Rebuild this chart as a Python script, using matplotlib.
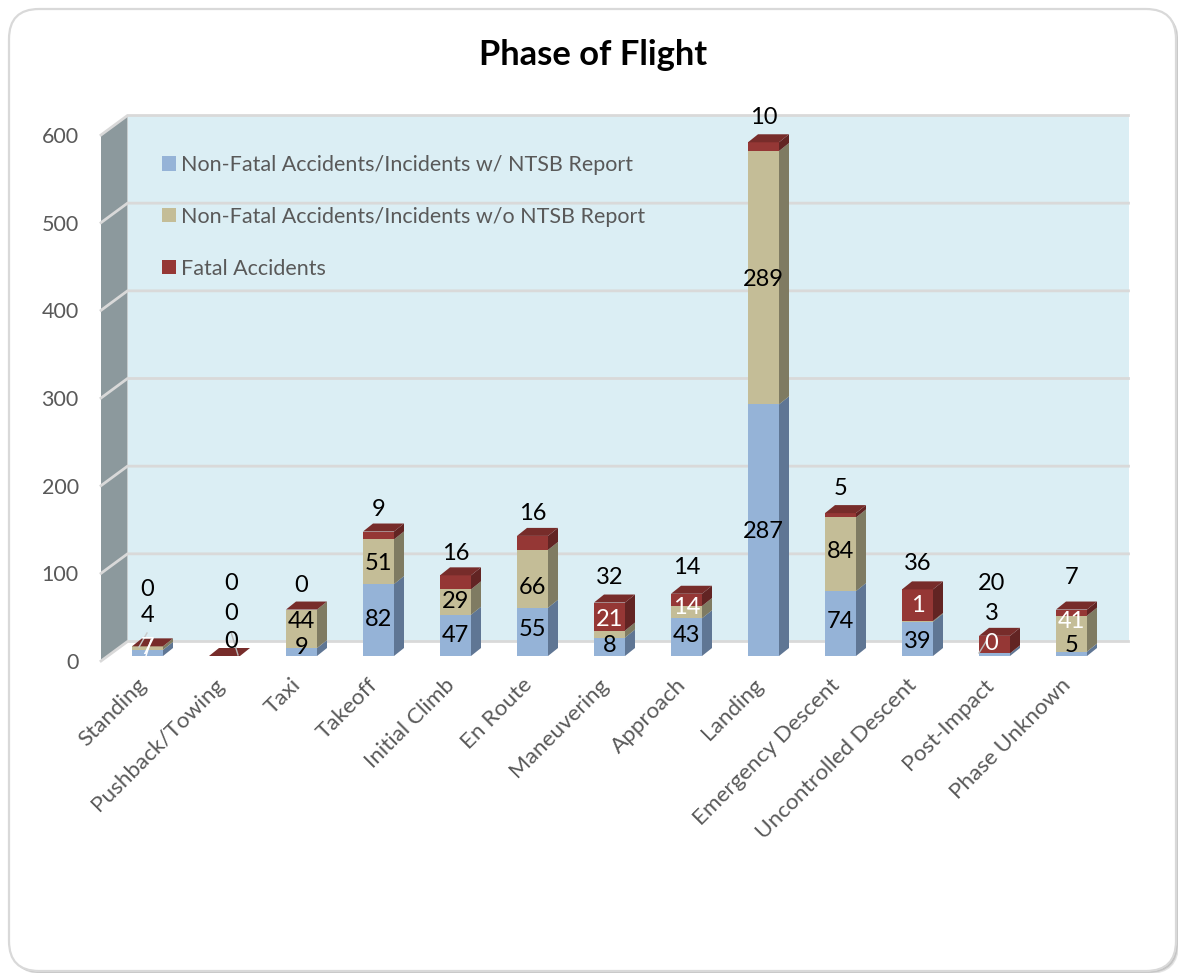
import matplotlib

matplotlib.use("Agg")

import matplotlib.pyplot as plt
from matplotlib.patches import FancyBboxPatch, Polygon

plt.rcParams["font.family"] = ["Lato", "DejaVu Sans"]

PHASES = [
    "Standing", "Pushback/Towing", "Taxi", "Takeoff", "Initial Climb", "En Route", "Maneuvering",
    "Approach", "Landing", "Emergency Descent", "Uncontrolled Descent", "Post-Impact", "Phase Unknown",
]
WITH_REPORT = [7, 0, 9, 82, 47, 55, 21, 43, 287, 74, 39, 3, 5]
WITHOUT_REPORT = [4, 0, 44, 51, 29, 66, 8, 14, 289, 84, 1, 0, 41]
FATAL = [0, 0, 0, 9, 16, 16, 32, 14, 10, 5, 36, 20, 7]

# the labels in the source sit where they sit, some are swapped against the bars
LABEL_LOW = ["7", "0", "9", "82", "47", "55", "8", "43", "287", "74", "39", "0", "5"]
LABEL_MID = ["4", "0", "44", "51", "29", "66", "21", "14", "289", "84", "1", "3", "41"]
LABEL_TOP = ["0", "0", "0", "9", "16", "16", "32", "14", "10", "5", "36", "20", "7"]
WHITE_LOW = {"Standing", "Post-Impact"}
WHITE_MID = {"Maneuvering", "Approach", "Uncontrolled Descent", "Phase Unknown"}

# label layout, pixels down from the top of the image
LOW_Y = [648, 641, 648, 620, 635, 630, 646, 635, 532, 622, 641, 644, 646]
MID_Y = [615, 613, 621, 564, 601, 588, 620, 608, 279, 552, 605, 614, 621]
TOP_Y = [590, 584, 585, 509, 553, 514, 577, 567, 118, 489, 563, 584, 577]
LABEL_DX = [0, 7, 0, 0, 0, 0, 0, 0, 0, 0, 0, -3, 0]

LEGEND_LABELS = [
    "Non-Fatal Accidents/Incidents w/ NTSB Report",
    "Non-Fatal Accidents/Incidents w/o NTSB Report",
    "Fatal Accidents",
]

W, H = 1178, 973
AX_LEFT, AX_RIGHT, AX_TOP, AX_BOTTOM = 101, 1102, 135, 661
X_PX = (AX_RIGHT - AX_LEFT) / 13
Y_PX = (AX_BOTTOM - AX_TOP) / 600

WALL_DX, WALL_DY = 26.5 / X_PX, 19.5 / Y_PX
BAR_DX, BAR_DY = 10 / X_PX, 8 / Y_PX
BAR_W = 31 / X_PX
BAR_OFFSET = 31 / X_PX
BAR_BASE = 5 / Y_PX

BLUE = ("#95B3D7", "#5F7694")
TAN = ("#C4BD97", "#7F7B62")
RED = ("#953735", "#622423")
RED_TOP = "#772C2A"
WALL = "#8C999D"
BACK = "#DBEEF4"
GRID = "#D9D9D9"
TEXT = "#595959"


def px_x(x):
    return (x - AX_LEFT) / X_PX


def px_y(y):
    return (AX_BOTTOM - y) / Y_PX


def draw_panel(fig):
    bg = fig.add_axes([0, 0, 1, 1], zorder=0)
    bg.set_xlim(0, W)
    bg.set_ylim(H, 0)
    bg.axis("off")
    for off, shade in [(3, "#E4E4E4"), (2, "#C8C8C8"), (1, "#B0B0B0")]:
        bg.add_patch(FancyBboxPatch((9 + off, 9 + off), 1167, 962, boxstyle="round,pad=0,rounding_size=30",
                                    fc=shade, ec="none", clip_on=False))
    bg.add_patch(FancyBboxPatch((9, 9), 1167, 962, boxstyle="round,pad=0,rounding_size=30",
                                fc="white", ec=GRID, lw=1.6))
    bg.text(593, 55, "Phase of Flight", ha="center", va="center", fontsize=24.8, fontweight="bold", color="black")


def draw_walls(ax):
    right = 13 + WALL_DX
    ax.add_patch(Polygon([(0, 0), (WALL_DX, WALL_DY), (WALL_DX, 600 + WALL_DY), (0, 600)],
                         fc=WALL, ec="none", clip_on=False, zorder=1))
    ax.add_patch(Polygon([(WALL_DX, WALL_DY), (right, WALL_DY), (right, 600 + WALL_DY), (WALL_DX, 600 + WALL_DY)],
                         fc=BACK, ec="none", clip_on=False, zorder=1))
    for value in range(0, 601, 100):
        ax.plot([0, WALL_DX, right], [value, value + WALL_DY, value + WALL_DY], color=GRID, lw=2.0,
                clip_on=False, zorder=2, solid_joinstyle="miter")


def draw_bars(ax, xs):
    bottoms = [BAR_BASE] * len(xs)
    handles = []
    for values, (front, side), label in zip([WITH_REPORT, WITHOUT_REPORT, FATAL], [BLUE, TAN, RED], LEGEND_LABELS):
        bars = ax.bar(xs, values, width=BAR_W, bottom=bottoms, align="edge", color=front, label=label,
                      clip_on=False, zorder=3)
        handles.append(bars)
        for x, value, bottom in zip(xs, values, bottoms):
            if value == 0:
                continue
            x1 = x + BAR_W
            ax.add_patch(Polygon([(x1, bottom), (x1 + BAR_DX, bottom + BAR_DY),
                                  (x1 + BAR_DX, bottom + value + BAR_DY), (x1, bottom + value)],
                                 fc=side, ec="none", clip_on=False, zorder=3))
        bottoms = [b + v for b, v in zip(bottoms, values)]
    for x, top in zip(xs, bottoms):
        ax.add_patch(Polygon([(x, top), (x + BAR_W, top), (x + BAR_W + BAR_DX, top + BAR_DY), (x + BAR_DX, top + BAR_DY)],
                             fc=RED_TOP, ec="none", clip_on=False, zorder=3))
    return handles


def draw_labels(ax, xs):
    for i, phase in enumerate(PHASES):
        cx = xs[i] + BAR_W / 2 + LABEL_DX[i] / X_PX
        rows = [
            (LABEL_LOW[i], LOW_Y[i], "white" if phase in WHITE_LOW else "black"),
            (LABEL_MID[i], MID_Y[i], "white" if phase in WHITE_MID else "black"),
            (LABEL_TOP[i], TOP_Y[i], "black"),
        ]
        for text, y, color in rows:
            ax.text(cx, px_y(y), text, ha="center", va="center", fontsize=17, color=color, zorder=5, clip_on=False)
    # leader lines left behind by the moved labels
    for (x0, y0), (x1, y1), color in [
        ((139, 647), (147, 633), "#C9C9C9"),
        ((146, 656), (151, 640), "white"),
        ((231, 632), (238, 655), "#B8B8B8"),
        ((979, 653), (987, 640), "#B8B8B8"),
    ]:
        ax.plot([px_x(x0), px_x(x1)], [px_y(y0), px_y(y1)], color=color, lw=1.0, zorder=4, clip_on=False)


def main():
    fig = plt.figure(figsize=(W / 100, H / 100), dpi=100)
    draw_panel(fig)

    ax = fig.add_axes([AX_LEFT / W, 1 - AX_BOTTOM / H, (AX_RIGHT - AX_LEFT) / W, (AX_BOTTOM - AX_TOP) / H], zorder=1)
    ax.patch.set_visible(False)
    ax.set_xlim(0, 13)
    ax.set_ylim(0, 600)
    for spine in ax.spines.values():
        spine.set_visible(False)

    xs = [i + BAR_OFFSET for i in range(len(PHASES))]
    draw_walls(ax)
    handles = draw_bars(ax, xs)
    draw_labels(ax, xs)

    ax.set_yticks(range(0, 601, 100))
    ax.tick_params(axis="y", length=0, pad=16, labelsize=15.5, labelcolor=TEXT)
    ax.set_xticks([x + BAR_W / 2 - 11 / X_PX for x in xs])
    ax.set_xticklabels(PHASES, rotation=45, ha="right", rotation_mode="anchor")
    ax.tick_params(axis="x", length=0, pad=10, labelsize=16.2, labelcolor=TEXT)

    legend = ax.legend(handles=handles, loc="upper left", bbox_to_anchor=(px_x(162) / 13, (AX_BOTTOM - 155) / (AX_BOTTOM - AX_TOP)),
                       frameon=False, fontsize=15.5, labelcolor=TEXT, handlelength=0.65, handleheight=0.65,
                       handletextpad=0.25, labelspacing=1.48, borderpad=0, borderaxespad=0)
    legend.set_zorder(6)

    fig.savefig("out.png", dpi=100)
    plt.close(fig)


if __name__ == "__main__":
    main()
